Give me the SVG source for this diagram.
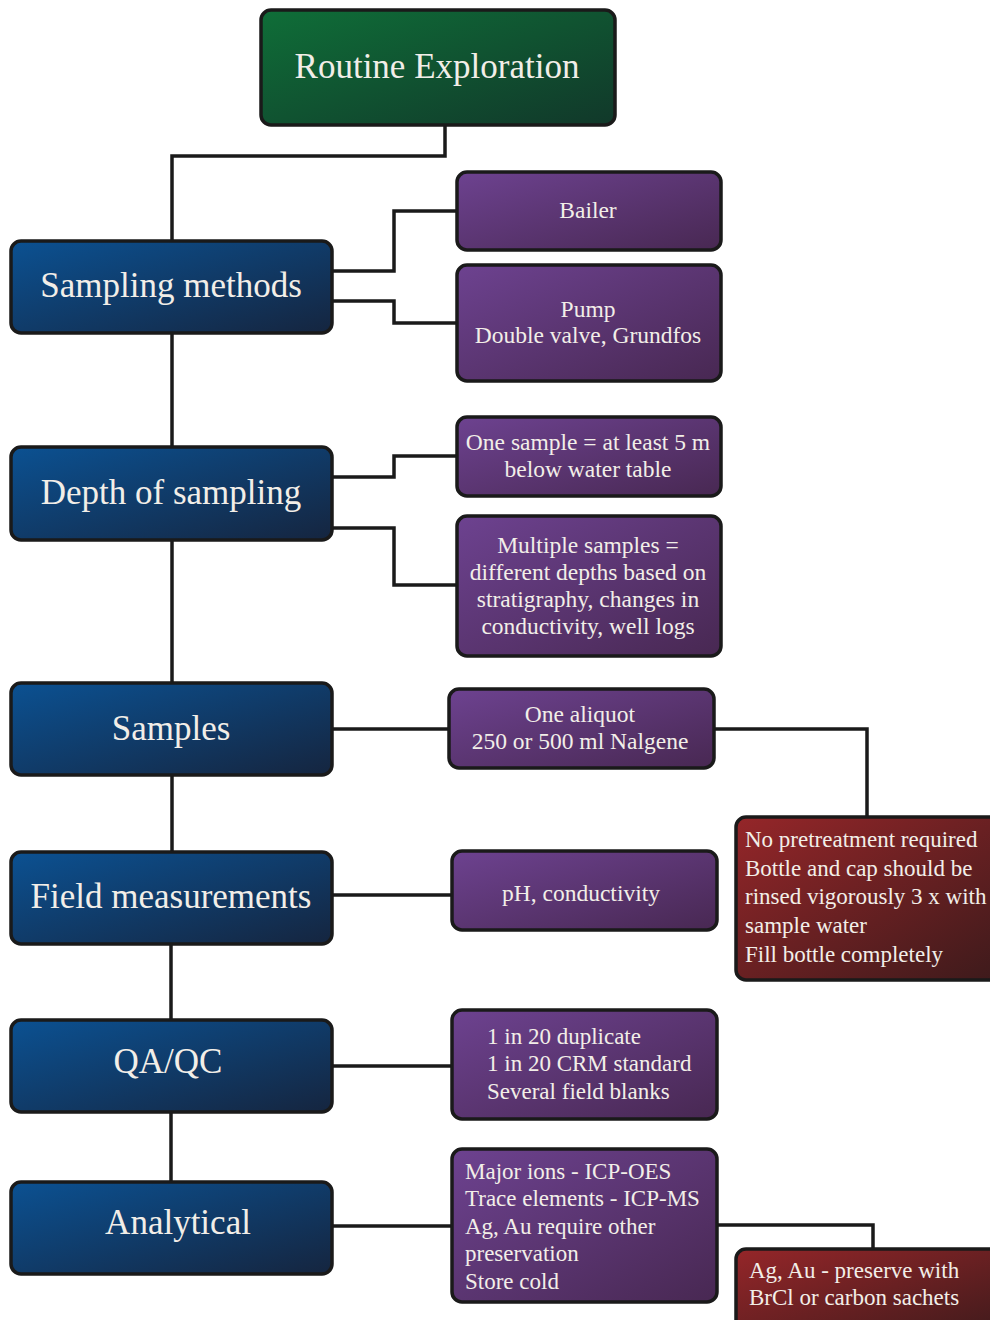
<svg xmlns="http://www.w3.org/2000/svg" width="990" height="1320" viewBox="0 0 990 1320">
<defs>
<linearGradient id="gGreen" x1="0" y1="0" x2="1" y2="1"><stop offset="0" stop-color="#0f6e38"/><stop offset="1" stop-color="#11382a"/></linearGradient>
<linearGradient id="gBlue" x1="0" y1="0" x2="1" y2="1"><stop offset="0" stop-color="#0b5192"/><stop offset="1" stop-color="#15253f"/></linearGradient>
<linearGradient id="gPurple" x1="0" y1="0" x2="1" y2="1"><stop offset="0" stop-color="#6d4290"/><stop offset="1" stop-color="#482852"/></linearGradient>
<linearGradient id="gRed" x1="0" y1="0" x2="1" y2="1"><stop offset="0" stop-color="#952629"/><stop offset="1" stop-color="#3c1a1b"/></linearGradient>
</defs>
<style>
.box{stroke:#1a1a1a;stroke-width:3.5}
.green{fill:url(#gGreen)}
.blue{fill:url(#gBlue)}
.purple{fill:url(#gPurple)}
.red{fill:url(#gRed)}
text{font-family:"Liberation Serif","Times New Roman",serif;fill:#f2eee8}
.big{font-size:35px;text-anchor:middle}
.mid{font-size:23.5px;text-anchor:middle}
.left{font-size:23px}
.conn{fill:none;stroke:#1a1a1a;stroke-width:3.5}
</style>
<rect width="990" height="1320" fill="#ffffff"/>
<g id="connectors">
<polyline class="conn" points="445,125 445,156 172,156 172,241"/>
<line class="conn" x1="172" y1="333" x2="172" y2="447"/>
<line class="conn" x1="172" y1="540" x2="172" y2="683"/>
<line class="conn" x1="172" y1="775" x2="172" y2="852"/>
<line class="conn" x1="171" y1="944" x2="171" y2="1020"/>
<line class="conn" x1="171" y1="1112" x2="171" y2="1182"/>
<polyline class="conn" points="332,271 394,271 394,211 457,211"/>
<polyline class="conn" points="332,301 394,301 394,323 457,323"/>
<polyline class="conn" points="332,477 394,477 394,456 457,456"/>
<polyline class="conn" points="332,528 394,528 394,585 457,585"/>
<line class="conn" x1="332" y1="729" x2="449" y2="729"/>
<polyline class="conn" points="714,729 867,729 867,817"/>
<line class="conn" x1="332" y1="895" x2="452" y2="895"/>
<line class="conn" x1="332" y1="1066" x2="452" y2="1066"/>
<line class="conn" x1="332" y1="1226" x2="452" y2="1226"/>
<polyline class="conn" points="717,1225 873,1225 873,1249"/>
</g>
<g id="routine">
<rect class="box green" x="261" y="10" width="354" height="115" rx="10"/>
<text class="big" x="437" y="78">Routine Exploration</text>
</g>
<g id="sampling-methods">
<rect class="box blue" x="11" y="241" width="321" height="92" rx="10"/>
<text class="big" x="171" y="297">Sampling methods</text>
</g>
<g id="depth">
<rect class="box blue" x="11" y="447" width="321" height="93" rx="10"/>
<text class="big" x="171" y="504">Depth of sampling</text>
</g>
<g id="samples">
<rect class="box blue" x="11" y="683" width="321" height="92" rx="10"/>
<text class="big" x="171" y="740">Samples</text>
</g>
<g id="field">
<rect class="box blue" x="11" y="852" width="321" height="92" rx="10"/>
<text class="big" x="171" y="908">Field measurements</text>
</g>
<g id="qaqc">
<rect class="box blue" x="11" y="1020" width="321" height="92" rx="10"/>
<text class="big" x="168" y="1073">QA/QC</text>
</g>
<g id="analytical">
<rect class="box blue" x="11" y="1182" width="321" height="92" rx="10"/>
<text class="big" x="178" y="1234">Analytical</text>
</g>
<g id="bailer">
<rect class="box purple" x="457" y="172" width="264" height="78" rx="10"/>
<text class="mid" x="588" y="218">Bailer</text>
</g>
<g id="pump">
<rect class="box purple" x="457" y="265" width="264" height="116" rx="10"/>
<text class="mid" x="588" y="317">Pump</text>
<text class="mid" x="588" y="343">Double valve, Grundfos</text>
</g>
<g id="one-sample">
<rect class="box purple" x="457" y="417" width="264" height="79" rx="10"/>
<text class="mid" x="588" y="450">One sample = at least 5 m</text>
<text class="mid" x="588" y="477">below water table</text>
</g>
<g id="multiple">
<rect class="box purple" x="457" y="516" width="264" height="140" rx="10"/>
<text class="mid" x="588" y="553">Multiple samples =</text>
<text class="mid" x="588" y="580">different depths based on</text>
<text class="mid" x="588" y="607">stratigraphy, changes in</text>
<text class="mid" x="588" y="634">conductivity, well logs</text>
</g>
<g id="aliquot">
<rect class="box purple" x="449" y="689" width="265" height="79" rx="10"/>
<text class="mid" x="580" y="722">One aliquot</text>
<text class="mid" x="580" y="749">250 or 500 ml Nalgene</text>
</g>
<g id="ph">
<rect class="box purple" x="452" y="851" width="265" height="79" rx="10"/>
<text class="mid" x="581" y="901">pH, conductivity</text>
</g>
<g id="qaqc-detail">
<rect class="box purple" x="452" y="1010" width="265" height="109" rx="10"/>
<text class="left" x="487" y="1044">1 in 20 duplicate</text>
<text class="left" x="487" y="1071">1 in 20 CRM standard</text>
<text class="left" x="487" y="1099">Several field blanks</text>
</g>
<g id="analytical-detail">
<rect class="box purple" x="452" y="1149" width="265" height="153" rx="10"/>
<text class="left" x="465" y="1179">Major ions - ICP-OES</text>
<text class="left" x="465" y="1206">Trace elements - ICP-MS</text>
<text class="left" x="465" y="1234">Ag, Au require other</text>
<text class="left" x="465" y="1261">preservation</text>
<text class="left" x="465" y="1289">Store cold</text>
</g>
<g id="pretreatment">
<rect class="box red" x="736" y="817" width="270" height="163" rx="10"/>
<text class="left" x="745" y="847">No pretreatment required</text>
<text class="left" x="745" y="876">Bottle and cap should be</text>
<text class="left" x="745" y="904">rinsed vigorously 3 x with</text>
<text class="left" x="745" y="933">sample water</text>
<text class="left" x="745" y="962">Fill bottle completely</text>
</g>
<g id="ag-au">
<rect class="box red" x="736" y="1249" width="270" height="90" rx="10"/>
<text class="left" x="749" y="1278">Ag, Au - preserve with</text>
<text class="left" x="749" y="1305">BrCl or carbon sachets</text>
</g>
</svg>
